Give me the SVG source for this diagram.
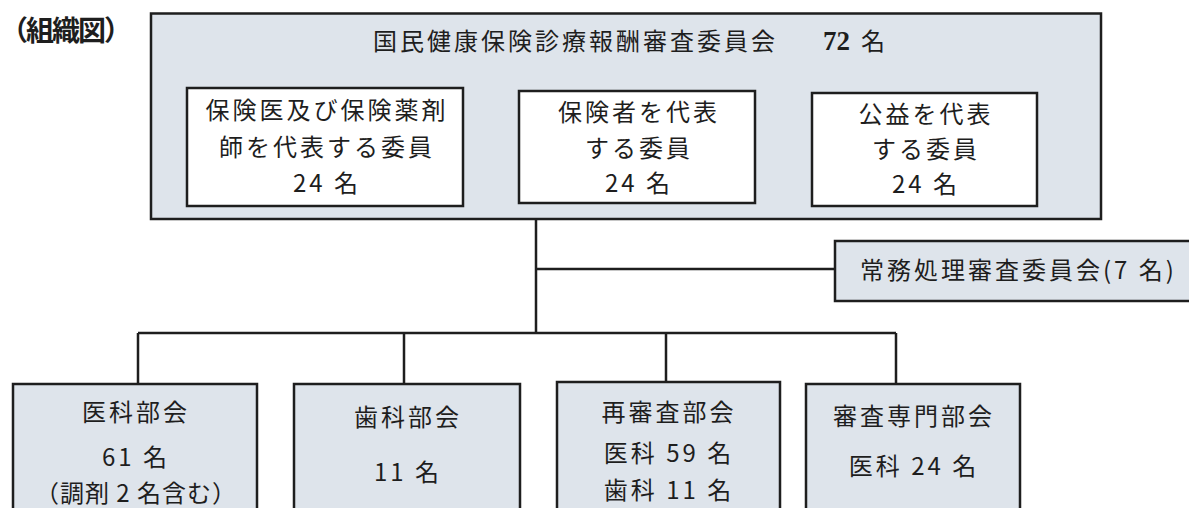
<svg xmlns="http://www.w3.org/2000/svg" width="1189" height="508" viewBox="0 0 1189 508">
<style>
.box{fill:#dee4eb;stroke:#1e1e1e;stroke-width:2.5}
.wbox{fill:#ffffff;stroke:#1e1e1e;stroke-width:2.5}
.t{font-family:"Noto Sans CJK JP","Noto Sans",sans-serif;font-size:24px;fill:#1e1e1e;letter-spacing:3px}
.c{text-anchor:middle}
.conn{stroke:#1e1e1e;stroke-width:2.5;fill:none}
</style>
<rect width="1189" height="508" fill="#ffffff"/>
<text x="0" y="41" class="t" style="font-weight:bold;font-size:28px;letter-spacing:-2px">（組織図）</text>
<g id="connectors">
<path class="conn" d="M536,219 V333 M536,269 H835 M138,333 H896 M138,333 V384 M404,333 V384 M666,333 V382 M896,333 V384"/>
</g>
<g id="main">
<rect class="box" x="151" y="13.5" width="950" height="205.5"/>
<text x="373" y="50" class="t">国民健康保険診療報酬審査委員会</text>
<text x="823" y="50" style="font-family:'Liberation Serif',serif;font-weight:bold;font-size:27px;fill:#1e1e1e">72</text>
<text x="861" y="50" class="t">名</text>
</g>
<g id="rep1">
<rect class="wbox" x="187" y="88" width="276" height="118"/>
<text x="327" y="119" class="t c">保険医及び保険薬剤</text>
<text x="327" y="156" class="t c">師を代表する委員</text>
<text x="327" y="192" class="t c">24 名</text>
</g>
<g id="rep2">
<rect class="wbox" x="519" y="91" width="236" height="112"/>
<text x="639" y="121" class="t c">保険者を代表</text>
<text x="639" y="157" class="t c">する委員</text>
<text x="639" y="192" class="t c">24 名</text>
</g>
<g id="rep3">
<rect class="wbox" x="812" y="93" width="225" height="113"/>
<text x="926" y="123" class="t c">公益を代表</text>
<text x="926" y="158" class="t c">する委員</text>
<text x="926" y="193" class="t c">24 名</text>
</g>
<g id="joumu">
<rect class="box" x="835" y="241" width="360" height="60"/>
<text x="860" y="279" class="t">常務処理審査委員会(7 名)</text>
</g>
<g id="ika">
<rect class="box" x="13" y="384" width="244" height="135"/>
<text x="136" y="421" class="t c">医科部会</text>
<text x="136" y="466" class="t c">61 名</text>
<text x="136" y="502" class="t c" style="letter-spacing:1px">（調剤 2 名含む）</text>
</g>
<g id="shika">
<rect class="box" x="294" y="384" width="226" height="135"/>
<text x="408" y="426" class="t c">歯科部会</text>
<text x="408" y="481" class="t c">11 名</text>
</g>
<g id="saishinsa">
<rect class="box" x="557" y="382" width="223" height="137"/>
<text x="669" y="421" class="t c">再審査部会</text>
<text x="669" y="462" class="t c">医科 59 名</text>
<text x="669" y="499" class="t c">歯科 11 名</text>
</g>
<g id="senmon">
<rect class="box" x="806" y="384" width="214" height="135"/>
<text x="914" y="425" class="t c">審査専門部会</text>
<text x="914" y="475" class="t c">医科 24 名</text>
</g>
</svg>
